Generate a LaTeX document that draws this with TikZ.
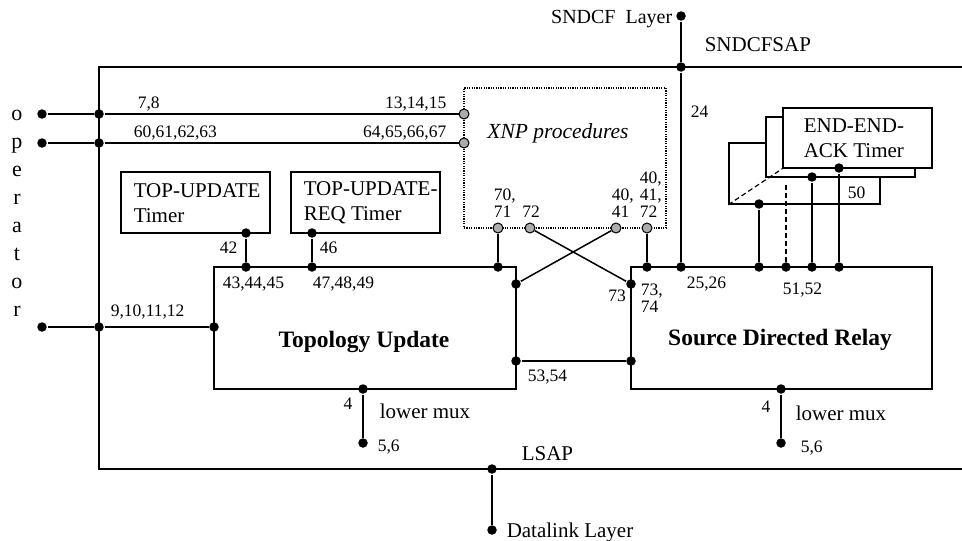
\documentclass[tikz,border=0pt]{standalone}
\usepackage{fontspec}
\setmainfont{Liberation Serif}
\begin{document}
\begin{tikzpicture}[x=1pt,y=-1pt,line width=1.5pt,
    jdot/.style={circle,fill,inner sep=0pt,minimum size=9.5pt},
    gdot/.style={circle,draw,line width=1pt,fill=gray!65,inner sep=0pt,minimum size=10pt},
    lab/.style={inner sep=0pt,font=\fontsize{17.5}{17}\selectfont},
    txt/.style={inner sep=0pt,font=\fontsize{21}{25}\selectfont},
    box/.style={draw,fill=white,inner sep=0pt}]
  \useasboundingbox (0,0) rectangle (962,541);
  % frame
  \draw (962,67) -- (99,67) -- (99,469) -- (962,469);
  % boxes
  \node[box,minimum width=149pt,minimum height=61pt] (tutimer) at (195.5,202.5) {};
  \node[box,minimum width=149pt,minimum height=61pt] (tureq) at (365.5,202.5) {};
  \node[box,minimum width=302pt,minimum height=122pt] (topo) at (365,328) {};
  \node[box,minimum width=301pt,minimum height=122pt] (sdr) at (781.5,328) {};
  \node[draw,dash pattern=on 1.2pt off 1.2pt,line width=1.2pt,minimum width=202pt,minimum height=140pt] (xnp) at (565,158) {};
  \node[box,minimum width=151pt,minimum height=61pt] (eback) at (804.5,173.5) {};
  \node[box,minimum width=149pt,minimum height=60pt] (emid) at (840.5,147) {};
  \node[box,minimum width=149pt,minimum height=60pt] (efront) at (857.5,138) {};
  \draw[dash pattern=on 5pt off 3pt,line width=1.2pt] (eback.south west) -- (efront.south west);
  % texts
  \node[txt,font=\fontsize{20}{25}\selectfont,anchor=east] (sndcftxt) at (673,19) {SNDCF\ \ Layer};
  \node[txt,anchor=west] (saptxt) at (704,45) {SNDCFSAP};
  \node[txt,font=\fontsize{21.5}{25}\selectfont\itshape] (xnptxt) at (558,133) {XNP procedures};
  \node[txt,align=left,anchor=west] (tutxt) at (133,203) {TOP-UPDATE\\Timer};
  \node[txt,align=left,anchor=west] (tureqtxt) at (303,203) {TOP-UPDATE-\\REQ Timer};
  \node[txt,align=left,anchor=west] (etxt) at (803,138) {END-END-\\ACK Timer};
  \node[txt,font=\fontsize{23.5}{25}\selectfont\bfseries] (topotxt) at (364,342) {Topology Update};
  \node[txt,font=\fontsize{23.5}{25}\selectfont\bfseries] (sdrtxt) at (780,340) {Source Directed Relay};
  \node[txt,anchor=west] (lmux1) at (379,411) {lower mux};
  \node[txt,anchor=west] (lmux2) at (795,413) {lower mux};
  \node[txt,anchor=west] (lsaptxt) at (521,454) {LSAP};
  \node[txt,anchor=west] (dltxt) at (506,532) {Datalink Layer};
  \foreach \c [count=\i] in {o,p,e,r,a,t,o,r}
    \node[txt,font=\fontsize{22}{25}\selectfont,anchor=base] (op-\i) at (17,92+28*\i) {\c};
  % number labels
  \node[lab,anchor=west] at (137,104) {7,8};
  \node[lab,anchor=east] at (447,104) {13,14,15};
  \node[lab,anchor=west] at (133,133) {60,61,62,63};
  \node[lab,anchor=east] at (447,133) {64,65,66,67};
  \node[lab,anchor=west] at (110,312) {9,10,11,12};
  \node[lab,anchor=west] at (690,112) {24};
  \node[lab,anchor=east] at (238,248) {42};
  \node[lab,anchor=west] at (319,248) {46};
  \node[lab,anchor=west] at (222,284) {43,44,45};
  \node[lab,anchor=west] at (312,284) {47,48,49};
  \node[lab,align=left,anchor=west] at (493,203) {70,\\71};
  \node[lab] at (531,212) {72};
  \node[lab,align=left,anchor=west] at (611,203) {40,\\41};
  \node[lab,align=left,anchor=west] at (639,195) {40,\\41,\\72};
  \node[lab] at (617,296) {73};
  \node[lab,align=left,anchor=west] at (640,298) {73,\\74};
  \node[lab,anchor=west] at (686,284) {25,26};
  \node[lab,anchor=west] at (782,290) {51,52};
  \node[lab,anchor=west] at (847,193) {50};
  \node[lab,anchor=west] at (527,377) {53,54};
  \node[lab] at (348,404) {4};
  \node[lab] at (766,407) {4};
  \node[lab,anchor=west] at (377,447) {5,6};
  \node[lab,anchor=west] at (800,448) {5,6};
  % dots
  \node[jdot] (sndcf) at (681,16) {};
  \node[jdot] (sap) at (681,67) {};
  \node[jdot] (op1) at (42,114) {};
  \node[jdot] (op2) at (42,143) {};
  \node[jdot] (op3) at (42,327) {};
  \node[jdot] (j1) at (99,114) {};
  \node[jdot] (j2) at (99,143) {};
  \node[jdot] (j3) at (99,327) {};
  \node[gdot] (g1) at (464,114) {};
  \node[gdot] (g2) at (464,143) {};
  \node[gdot] (g3) at (498,228) {};
  \node[gdot] (g4) at (530,228) {};
  \node[gdot] (g5) at (616,228) {};
  \node[gdot] (g6) at (647,228) {};
  \node[jdot] (tu1) at (246,233) {};
  \node[jdot] (tu2) at (246,267) {};
  \node[jdot] (tr1) at (312,233) {};
  \node[jdot] (tr2) at (312,267) {};
  \node[jdot] (t9) at (214,327) {};
  \node[jdot] (t70) at (498,267) {};
  \node[jdot] (tx) at (516,284) {};
  \node[jdot] (t53) at (516,361) {};
  \node[jdot] (sx) at (631,284) {};
  \node[jdot] (s53) at (631,361) {};
  \node[jdot] (s0) at (647,267) {};
  \node[jdot] (s1) at (681,267) {};
  \node[jdot] (s2) at (759,267) {};
  \node[jdot] (s3) at (786,267) {};
  \node[jdot] (s4) at (812,267) {};
  \node[jdot] (s5) at (839,267) {};
  \node[jdot] (e1) at (759,204) {};
  \node[jdot] (e3) at (812,177) {};
  \node[jdot] (e4) at (839,168) {};
  \coordinate (e2) at (786,185);
  \node[jdot] (tl1) at (363,389) {};
  \node[jdot] (tl2) at (363,443) {};
  \node[jdot] (sl1) at (781,389) {};
  \node[jdot] (sl2) at (781,443) {};
  \node[jdot] (lsap) at (492,469) {};
  \node[jdot] (dl) at (492,530) {};
  % connectors
  \draw (sndcf) -- (sap) -- (s1);
  \draw (op1) -- (j1) -- (g1);
  \draw (op2) -- (j2) -- (g2);
  \draw (op3) -- (j3) -- (t9);
  \draw (tu1) -- (tu2);
  \draw (tr1) -- (tr2);
  \draw (g3) -- (t70);
  \draw (g6) -- (s0);
  \draw (g4) -- (sx);
  \draw (g5) -- (tx);
  \draw (t53) -- (s53);
  \draw (e1) -- (s2);
  \draw[dash pattern=on 5pt off 3pt] (e2) -- (s3);
  \draw (e3) -- (s4);
  \draw (e4) -- (s5);
  \draw (tl1) -- (tl2);
  \draw (sl1) -- (sl2);
  \draw (lsap) -- (dl);
\end{tikzpicture}
\end{document}
